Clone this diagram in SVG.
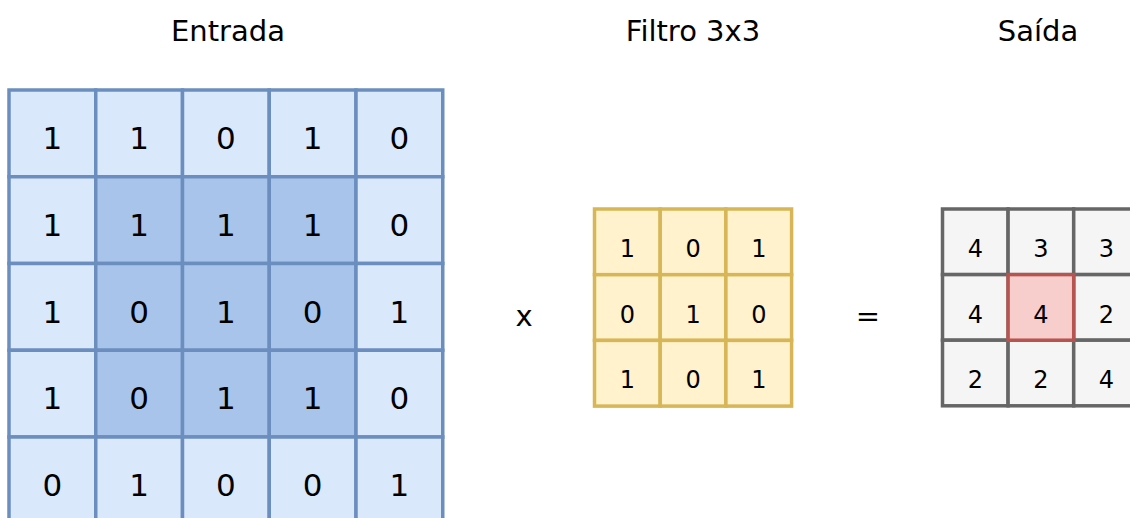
<svg xmlns="http://www.w3.org/2000/svg" width="1130" height="518" viewBox="0 0 1130 518">
  <style>
    text { font-family: "Comic Sans MS", "DejaVu Sans", sans-serif; fill: #000; text-anchor: middle; }
    .title { font-size: 29px; }
    .op { font-size: 29px; }
    .in rect { fill: #DAE8FC; stroke: #6C8EBF; stroke-width: 3.5; }
    .in rect.hl { fill: #A9C4EB; }
    .in text { font-size: 31px; }
    .flt rect { fill: #FFF2CC; stroke: #D6B656; stroke-width: 3.5; }
    .out rect { fill: #F5F5F5; stroke: #666666; stroke-width: 3.5; }
    .out rect.hl { fill: #F8CECC; stroke: #B85450; }
    .flt text, .out text { font-size: 24px; }
  </style>
  <rect width="1130" height="518" fill="#FFFFFF"/>

  <!-- titles -->
  <g id="label-entrada"><text class="title" x="228" y="41">Entrada</text></g>
  <g id="label-filtro"><text class="title" x="693" y="41">Filtro 3x3</text></g>
  <g id="label-saida"><text class="title" x="1038" y="41">Saída</text></g>

  <!-- input matrix 5x5, step 86.75 -->
  <g id="input" class="in">
    <rect x="9" y="90" width="86.75" height="86.75"/>
    <rect x="95.75" y="90" width="86.75" height="86.75"/>
    <rect x="182.5" y="90" width="86.75" height="86.75"/>
    <rect x="269.25" y="90" width="86.75" height="86.75"/>
    <rect x="356" y="90" width="86.75" height="86.75"/>

    <rect x="9" y="176.75" width="86.75" height="86.75"/>
    <rect class="hl" x="95.75" y="176.75" width="86.75" height="86.75"/>
    <rect class="hl" x="182.5" y="176.75" width="86.75" height="86.75"/>
    <rect class="hl" x="269.25" y="176.75" width="86.75" height="86.75"/>
    <rect x="356" y="176.75" width="86.75" height="86.75"/>

    <rect x="9" y="263.5" width="86.75" height="86.75"/>
    <rect class="hl" x="95.75" y="263.5" width="86.75" height="86.75"/>
    <rect class="hl" x="182.5" y="263.5" width="86.75" height="86.75"/>
    <rect class="hl" x="269.25" y="263.5" width="86.75" height="86.75"/>
    <rect x="356" y="263.5" width="86.75" height="86.75"/>

    <rect x="9" y="350.25" width="86.75" height="86.75"/>
    <rect class="hl" x="95.75" y="350.25" width="86.75" height="86.75"/>
    <rect class="hl" x="182.5" y="350.25" width="86.75" height="86.75"/>
    <rect class="hl" x="269.25" y="350.25" width="86.75" height="86.75"/>
    <rect x="356" y="350.25" width="86.75" height="86.75"/>

    <rect x="9" y="437" width="86.75" height="86.75"/>
    <rect x="95.75" y="437" width="86.75" height="86.75"/>
    <rect x="182.5" y="437" width="86.75" height="86.75"/>
    <rect x="269.25" y="437" width="86.75" height="86.75"/>
    <rect x="356" y="437" width="86.75" height="86.75"/>

    <text x="52.4" y="149">1</text><text x="139.1" y="149">1</text><text x="225.9" y="149">0</text><text x="312.6" y="149">1</text><text x="399.4" y="149">0</text>
    <text x="52.4" y="236">1</text><text x="139.1" y="236">1</text><text x="225.9" y="236">1</text><text x="312.6" y="236">1</text><text x="399.4" y="236">0</text>
    <text x="52.4" y="323">1</text><text x="139.1" y="323">0</text><text x="225.9" y="323">1</text><text x="312.6" y="323">0</text><text x="399.4" y="323">1</text>
    <text x="52.4" y="409">1</text><text x="139.1" y="409">0</text><text x="225.9" y="409">1</text><text x="312.6" y="409">1</text><text x="399.4" y="409">0</text>
    <text x="52.4" y="496">0</text><text x="139.1" y="496">1</text><text x="225.9" y="496">0</text><text x="312.6" y="496">0</text><text x="399.4" y="496">1</text>
  </g>

  <!-- operators -->
  <g id="op-times"><text class="op" x="524" y="326">x</text></g>
  <g id="op-equals"><text class="op" x="868" y="326">=</text></g>

  <!-- 3x3 filter, step 65.7 -->
  <g id="filter" class="flt">
    <rect x="594.5" y="209" width="65.7" height="65.7"/>
    <rect x="660.2" y="209" width="65.7" height="65.7"/>
    <rect x="725.9" y="209" width="65.7" height="65.7"/>
    <rect x="594.5" y="274.7" width="65.7" height="65.7"/>
    <rect x="660.2" y="274.7" width="65.7" height="65.7"/>
    <rect x="725.9" y="274.7" width="65.7" height="65.7"/>
    <rect x="594.5" y="340.4" width="65.7" height="65.7"/>
    <rect x="660.2" y="340.4" width="65.7" height="65.7"/>
    <rect x="725.9" y="340.4" width="65.7" height="65.7"/>

    <text x="627.4" y="257">1</text><text x="693.1" y="257">0</text><text x="758.8" y="257">1</text>
    <text x="627.4" y="322.5">0</text><text x="693.1" y="322.5">1</text><text x="758.8" y="322.5">0</text>
    <text x="627.4" y="388">1</text><text x="693.1" y="388">0</text><text x="758.8" y="388">1</text>
  </g>

  <!-- output 3x3, step 65.6 -->
  <g id="output" class="out">
    <rect x="942.5" y="209" width="65.6" height="65.6"/>
    <rect x="1008.1" y="209" width="65.6" height="65.6"/>
    <rect x="1073.7" y="209" width="65.6" height="65.6"/>
    <rect x="942.5" y="274.6" width="65.6" height="65.6"/>
    <rect x="1073.7" y="274.6" width="65.6" height="65.6"/>
    <rect x="942.5" y="340.2" width="65.6" height="65.6"/>
    <rect x="1008.1" y="340.2" width="65.6" height="65.6"/>
    <rect x="1073.7" y="340.2" width="65.6" height="65.6"/>
    <rect class="hl" x="1008.1" y="274.6" width="65.6" height="65.6"/>

    <text x="975.3" y="257">4</text><text x="1040.9" y="257">3</text><text x="1106.5" y="257">3</text>
    <text x="975.3" y="322.5">4</text><text x="1040.9" y="322.5">4</text><text x="1106.5" y="322.5">2</text>
    <text x="975.3" y="388">2</text><text x="1040.9" y="388">2</text><text x="1106.5" y="388">4</text>
  </g>
</svg>
